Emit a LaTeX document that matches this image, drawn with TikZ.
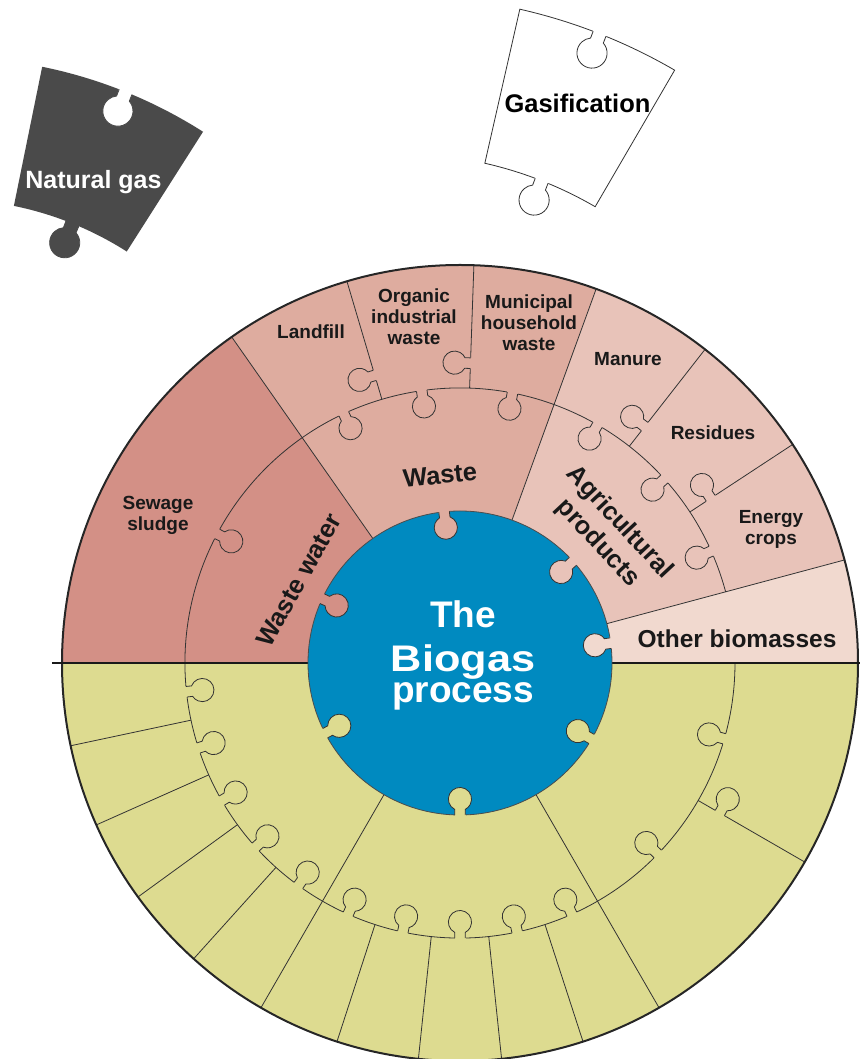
\documentclass[tikz,border=0pt]{standalone}
\usepackage{fontspec}
\setmainfont{Liberation Sans}

\definecolor{sewage}{RGB}{211,144,134}
\definecolor{waste}{RGB}{222,172,159}
\definecolor{agri}{RGB}{232,195,185}
\definecolor{otherbio}{RGB}{241,217,207}
\definecolor{yellowish}{RGB}{221,219,144}
\definecolor{biogas}{RGB}{0,138,192}
\definecolor{ngas}{RGB}{74,74,74}

\tikzset{piece line/.style={draw=black!80,line width=0.8pt},
         knobline/.style={piece line},
         small label/.style={font=\bfseries\fontsize{19}{21}\selectfont,align=center,text=black!90},
         big label/.style={font=\bfseries\fontsize{25.5}{30}\selectfont,align=center,text=black!90},
         center label/.style={font=\bfseries\fontsize{37}{40}\selectfont,text=white,anchor=base}}

\newcommand{\pieceknob}[4][1]{%
  \begin{scope}[shift={#2},rotate=#3,scale=#1]
    \fill[#4] (-5.5,-1.3) rectangle (5.5,1.3);
    \filldraw[knobline,fill=#4] (-5.3,0) -- (-5.3,5.6) arc[start angle=243,end angle=-63,radius=11.6pt] -- (5.3,0);
  \end{scope}}

\begin{document}
\begin{tikzpicture}[x=1pt,y=1pt]

  \useasboundingbox (-460,-396) rectangle (400,663);

  \fill[sewage] (0,0) -- (125:398pt) arc[start angle=125,end angle=180,radius=398pt] -- cycle;
  \fill[waste] (0,0) -- (70:398pt) arc[start angle=70,end angle=125,radius=398pt] -- cycle;
  \fill[agri] (0,0) -- (15:398pt) arc[start angle=15,end angle=70,radius=398pt] -- cycle;
  \fill[otherbio] (0,0) -- (0:398pt) arc[start angle=0,end angle=15,radius=398pt] -- cycle;
  \fill[yellowish] (180:398pt) arc[start angle=180,end angle=360,radius=398pt] -- cycle;

  \foreach \a in {125,70,15,240,300}
    \draw[piece line] (\a:152pt) -- (\a:398pt);
  \foreach \a in {106.5,88,52,33.3,192,204,216,228,252,264,276,288,330}
    \draw[piece line] (\a:275pt) -- (\a:398pt);
  \draw[piece line] (15:275pt) arc[start angle=15,end angle=360,radius=275pt];
  \draw[line width=2pt,black!85] (0,0) circle[radius=398pt];
  \draw[line width=2.5pt,black!90] (-408,0) -- (400,0);

  \foreach \a/\col in {152/sewage,115/waste,98/waste,79/waste,60/agri,42/agri,24/agri,
                       186/yellowish,198/yellowish,210/yellowish,222/yellowish,234/yellowish,
                       246/yellowish,258/yellowish,270/yellowish,282/yellowish,294/yellowish,
                       316/yellowish,344/yellowish}
    \pieceknob{(\a:275pt)}{\a+90}{\col};
  \foreach \a/\col in {106.5/waste,88/waste,52/agri,33.3/agri,330/yellowish}
    \pieceknob{(\a:300pt)}{\a}{\col};

  \filldraw[fill=biogas,draw=black!70,line width=0.8pt] (0,0) circle[radius=152pt];
  \foreach \a/\col in {96/waste,42/agri,7.5/otherbio,155/sewage,207.5/yellowish,270/yellowish,330/yellowish}
    \pieceknob{(\a:152pt)}{\a+90}{\col};

  \node[small label] (sludge) at (-302,148) {Sewage\\sludge};
  \node[small label] (landfill) at (-149,331) {Landfill};
  \node[small label] (organic) at (-46,346) {Organic\\industrial\\waste};
  \node[small label] (municipal) at (69,340) {Municipal\\household\\waste};
  \node[small label] (manure) at (168,304) {Manure};
  \node[small label] (residues) at (253,230) {Residues};
  \node[small label] (energy) at (311,134) {Energy\\crops};
  \node[big label,font=\bfseries\fontsize{24.5}{28}\selectfont] (other) at (277,24) {Other biomasses};
  \node[big label,rotate=6] (waste) at (-20,188) {Waste};
  \node[big label,rotate=61] (wastewater) at (-161,83) {Waste water};
  \node[big label,rotate=-47] (agricultural) at (148.5,130) {Agricultural\\products};

  \node[center label] (the) at (3,35) {The};
  \node[center label,xscale=1.17] (biogas) at (3,-9) {Biogas};
  \node[center label] (process) at (3,-40) {process};

  % loose pieces
  \begin{scope}[shift={(-512.7,129.8)},knobline/.style={draw=ngas,line width=0.8pt}]
    \fill[ngas] (57.5:334pt) -- (57.5:476pt) arc[start angle=57.5,end angle=78.5,radius=476pt] -- (78.5:334pt) arc[start angle=78.5,end angle=57.5,radius=334pt] -- cycle;
    \pieceknob[1.3]{(68:476pt)}{68+90}{white}
    \pieceknob[1.3]{(68:334pt)}{68+90}{ngas}
  \end{scope}
  \begin{scope}[shift={(-62,117.5)}]
    \filldraw[fill=white,piece line] (59.8:392pt) -- (59.8:550pt) arc[start angle=59.8,end angle=77.2,radius=550pt] -- (77.2:392pt) arc[start angle=77.2,end angle=59.8,radius=392pt] -- cycle;
    \pieceknob[1.3]{(68.5:550pt)}{68.5+90}{white}
    \pieceknob[1.3]{(68.5:392pt)}{68.5+90}{white}
  \end{scope}
  \node[font=\bfseries\fontsize{25}{28}\selectfont,text=white] (natural gas) at (-366.5,481) {Natural gas};
  \node[font=\bfseries\fontsize{25.5}{28}\selectfont] (gasification) at (117.5,560) {Gasification};

\end{tikzpicture}
\end{document}
